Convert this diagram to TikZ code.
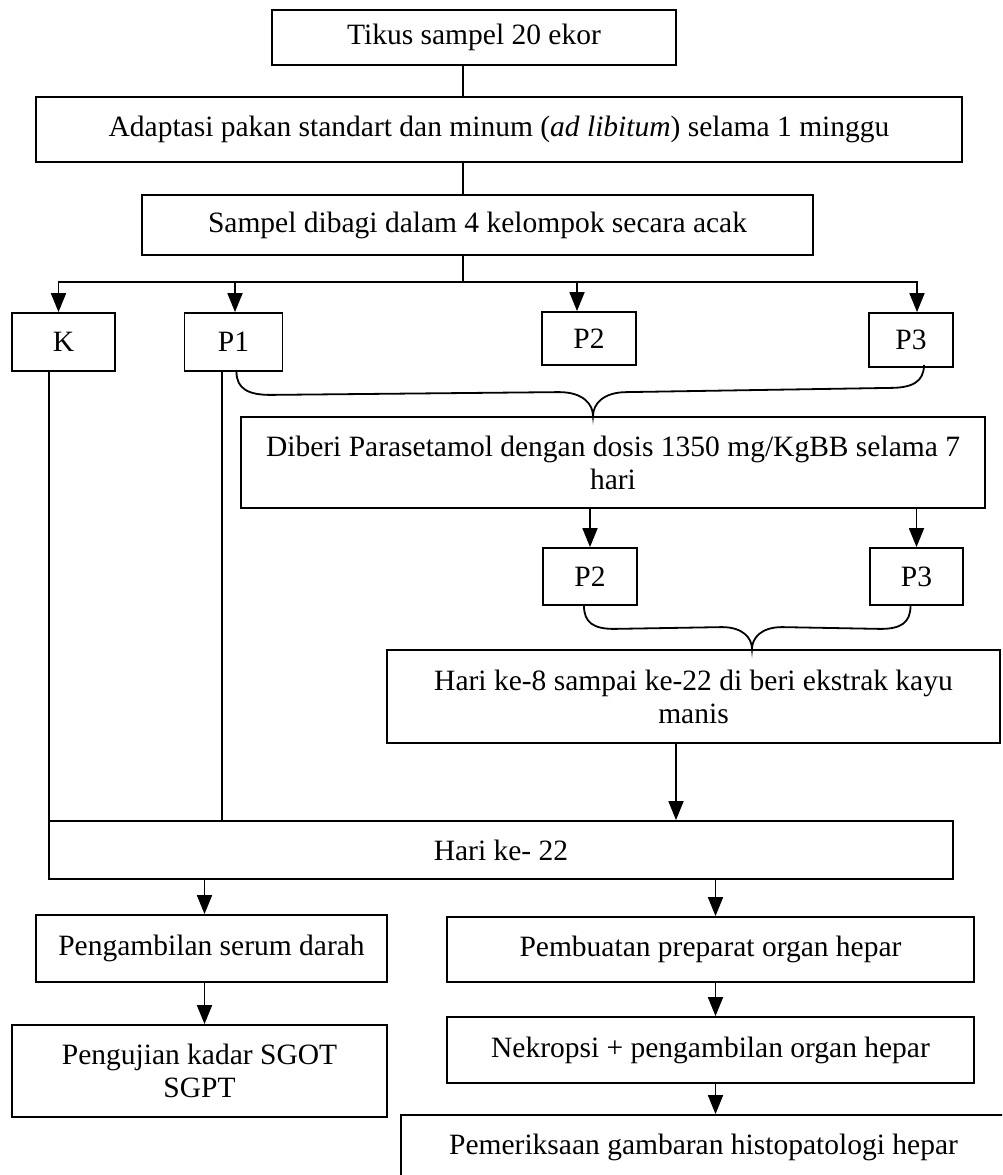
\documentclass[tikz,border=0pt]{standalone}
\usepackage{fontspec}
\setmainfont{Liberation Serif}
\usetikzlibrary{arrows.meta,calc}
\begin{document}
\begin{tikzpicture}[x=1pt,y=-1pt,line width=1.8pt,
  box/.style={draw,line width=1.8pt,inner sep=0pt,align=center,
    font=\fontsize{29.5}{33}\selectfont},
  arr/.style={-{Triangle[length=19pt,width=15pt]}}]
\clip (0,0) rectangle (1002,1175);
% Drawing boxes
\node[box,minimum width=404pt,minimum height=55pt] (tikus) at (474,37.5) {Tikus sampel 20 ekor};
\node[box,minimum width=926pt,minimum height=65pt] (adaptasi) at (499,129.5) {Adaptasi pakan standart dan minum (\textit{ad libitum}) selama 1 minggu};
\node[box,minimum width=671pt,minimum height=60pt] (sampel) at (477.5,225) {Sampel dibagi dalam 4 kelompok secara acak};
% the four groups
\node[box,minimum width=103pt,minimum height=58pt] (k) at (63.5,342) {K};
\node[box,minimum width=98pt,minimum height=58pt] (p1) at (233.5,342) {P1};
\node[box,minimum width=94pt,minimum height=53pt] (p2) at (589,338.5) {P2};
\node[box,minimum width=84pt,minimum height=54pt] (p3) at (911,340) {P3};
\node[box,minimum width=744pt,minimum height=91pt] (diberi) at (613,462.5) {Diberi Parasetamol dengan dosis 1350 mg/KgBB selama 7\\hari};
\node[box,minimum width=94pt,minimum height=57pt] (p2b) at (590,576.5) {P2};
\node[box,minimum width=93pt,minimum height=57pt] (p3b) at (916.5,576.5) {P3};
\node[box,minimum width=613pt,minimum height=93pt] (hari8) at (693.5,696.5) {Hari ke-8 sampai ke-22 di beri ekstrak kayu\\manis};
\node[box,minimum width=904pt,minimum height=58pt] (h22) at (501,850) {Hari ke- 22};
% Line 2: serum and hepar
\node[box,minimum width=351pt,minimum height=67pt] (serum) at (211.5,948.5) {Pengambilan serum darah};
\node[box,minimum width=527pt,minimum height=65pt] (preparat) at (710.5,949.5) {Pembuatan preparat organ hepar};
\node[box,minimum width=375pt,minimum height=92pt] (uji) at (199.5,1071) {Pengujian kadar SGOT\\SGPT};
\node[box,minimum width=527pt,minimum height=66pt] (nekropsi) at (710.5,1050) {Nekropsi + pengambilan organ hepar};
\node[box,minimum width=605pt,minimum height=65pt] (periksa) at (703.5,1147.5) {Pemeriksaan gambaran histopatologi hepar};
% Done with boxes; drawing connectors
\coordinate (trunk) at (463,282);
\draw (tikus.south -| trunk) -- (adaptasi.north -| trunk);
\draw (adaptasi.south -| trunk) -- (sampel.north -| trunk);
\draw (sampel.south -| trunk) -- (trunk);
\draw[arr] (trunk) -| ([xshift=-5pt]k.north);
\draw[arr] (trunk) -| ([xshift=1.5pt]p1.north);
\draw[arr] (trunk) -| ([xshift=-12pt]p2.north);
\draw[arr] (trunk) -| ([xshift=6pt]p3.north);
% K and P1 go straight down
\draw ([xshift=-14.5pt]k.south) -- ([xshift=-14.5pt]k.south |- h22.north);
\draw ([xshift=-11.5pt]p1.south) -- ([xshift=-11.5pt]p1.south |- h22.north);
% brace P1..P3 to parasetamol
\coordinate (b1a) at ([xshift=3pt]p1.south);
\coordinate (b1b) at ([xshift=13pt,yshift=3pt]p3.south);
\coordinate (b1t) at ([xshift=-20pt]diberi.north);
\draw (b1a) .. controls ($(b1a)+(0,17)$) and ($(b1a)+(12,23)$) .. ($(b1a)+(34,23)$)
  -- ($(b1t)+(-34,-24)$) .. controls ($(b1t)+(-10,-24)$) and ($(b1t)+(0,-12)$) .. (b1t)
  .. controls ($(b1t)+(0,-12)$) and ($(b1t)+(10,-24)$) .. ($(b1t)+(34,-24)$)
  -- ($(b1b)+(-34,23)$) .. controls ($(b1b)+(-12,23)$) and ($(b1b)+(0,17)$) .. (b1b);
\draw[arr] (diberi.south -| p2b.north) -- (p2b.north);
\draw[arr] (diberi.south -| p3b.north) -- (p3b.north);
% brace P2..P3 to ekstrak
\coordinate (b2a) at ([xshift=-6pt]p2b.south);
\coordinate (b2b) at ([xshift=-6pt]p3b.south);
\coordinate (b2t) at ([xshift=58.5pt]hari8.north);
\draw (b2a) .. controls ($(b2a)+(0,17)$) and ($(b2a)+(10,23)$) .. ($(b2a)+(30,23)$)
  -- ($(b2t)+(-30,-22)$) .. controls ($(b2t)+(-9,-22)$) and ($(b2t)+(0,-11)$) .. (b2t)
  .. controls ($(b2t)+(0,-11)$) and ($(b2t)+(9,-22)$) .. ($(b2t)+(30,-22)$)
  -- ($(b2b)+(-30,23)$) .. controls ($(b2b)+(-10,23)$) and ($(b2b)+(0,17)$) .. (b2b);
\draw[arr] ([xshift=-17.5pt]hari8.south) -- ([xshift=-17.5pt]hari8.south |- h22.north);
% Line 3: after day 22
\draw[arr] ([xshift=-7pt]serum.north |- h22.south) -- ([xshift=-7pt]serum.north);
\draw[arr] ([xshift=5pt]preparat.north |- h22.south) -- ([xshift=5pt]preparat.north);
\draw[arr] ([xshift=-7pt]serum.south) -- ([xshift=-7pt]serum.south |- uji.north);
\draw[arr] ([xshift=5pt]preparat.south) -- ([xshift=5pt]nekropsi.north);
\draw[arr] ([xshift=5pt]nekropsi.south) -- ([xshift=5pt]nekropsi.south |- periksa.north);
% Done with connectors
\end{tikzpicture}
\end{document}
